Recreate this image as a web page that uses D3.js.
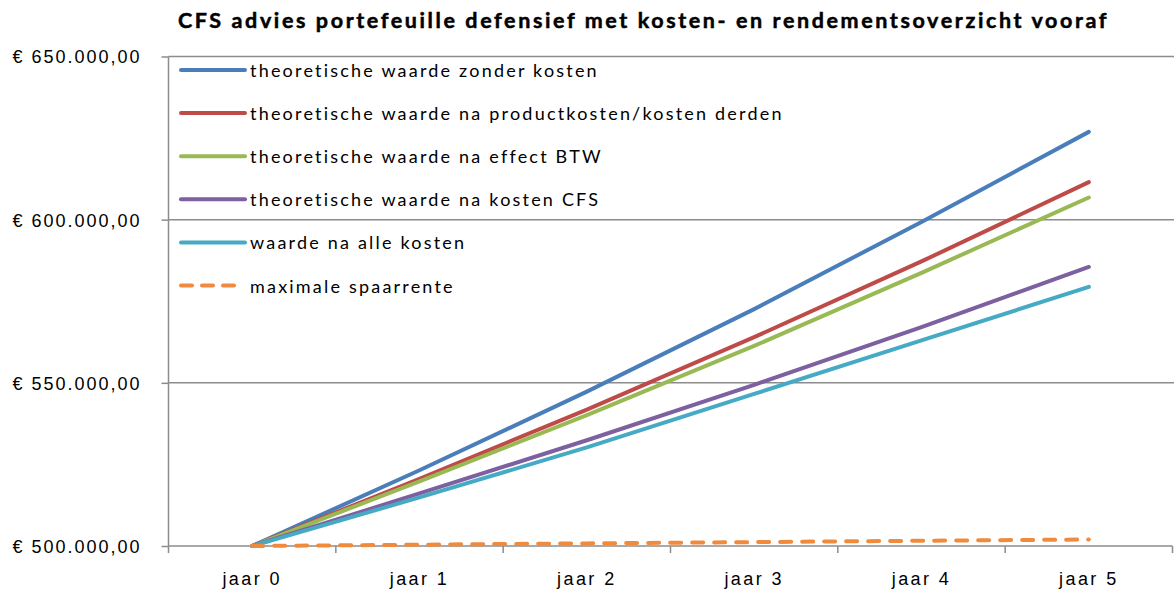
<!DOCTYPE html>
<html>
<head>
<meta charset="utf-8">
<script src="https://cdn.jsdelivr.net/npm/d3@7"></script>
<style>
  body { margin: 0; background: #fff; }
  svg { display: block; font-family: Lato, "Open Sans", sans-serif; }
</style>
</head>
<body>
<div id="vis"></div>
<script>
// chart data
var categories = ['jaar 0', 'jaar 1', 'jaar 2', 'jaar 3', 'jaar 4', 'jaar 5'];
var seriesNames = [
  'theoretische waarde zonder kosten',
  'theoretische waarde na productkosten/kosten derden',
  'theoretische waarde na effect BTW',
  'theoretische waarde na kosten CFS',
  'waarde na alle kosten',
  'maximale spaarrente'
];
var zonderKosten   = [500000, 523200, 547300, 572600, 599300, 626900];
var naProductKost  = [500000, 520600, 541800, 564000, 587200, 611500];
var naEffectBtw    = [500000, 519800, 540100, 561300, 583700, 606800];
var naKostenCfs    = [500000, 516100, 532400, 549400, 567100, 585500];
var naAlleKosten   = [500000, 514900, 530200, 546600, 563000, 579400];
var spaarrente     = [500000, 500400, 500800, 501200, 501600, 502000];
var yTicks = [500000, 550000, 600000, 650000];

var colors = ['#4a7ebb', '#be4b48', '#98b954', '#7d60a0', '#46aac5', '#f08a3c'];

var width = 1174;
var height = 592;
var margin = { top: 56.5, left: 168.5, right: 1.5, bottom: 46 };

var svg = d3.select('#vis').append('svg')
  .attr('width', width)
  .attr('height', height);

// title
svg.append('text')
  .attr('x', 643.5)
  .attr('y', 27.5)
  .attr('text-anchor', 'middle')
  .style('font-weight', 'bold')
  .style('font-size', '21.5px')
  .style('letter-spacing', '2.6px')
  .attr('stroke', '#000')
  .attr('stroke-width', 0.5)
  .text('CFS advies portefeuille defensief met kosten- en rendementsoverzicht vooraf');

var x = d3.scaleBand()
  .domain(categories)
  .range([margin.left, width - margin.right]);

var y = d3.scaleLinear()
  .domain([500000, 650000])
  .range([height - margin.bottom, margin.top]);

// dutch euro format: € 650.000,00
var nl = d3.formatLocale({ decimal: ',', thousands: '.', grouping: [3], currency: ['€ ', ''] });
var euro = nl.format('$,.2f');

// gridlines
svg.append('g')
  .selectAll('line')
  .data(yTicks.slice(1))
  .enter().append('line')
  .attr('x1', margin.left)
  .attr('x2', width)
  .attr('y1', function (d) { return y(d); })
  .attr('y2', function (d) { return y(d); })
  .attr('stroke', '#8c8c8c')
  .attr('stroke-width', 1.5);

// y axis
var yAxis = d3.axisLeft(y)
  .tickValues(yTicks)
  .tickSize(7)
  .tickPadding(20)
  .tickFormat(euro);

var yAxisG = svg.append('g')
  .attr('class', 'y axis')
  .attr('transform', 'translate(' + margin.left + ',0)')
  .call(yAxis);
yAxisG.select('.domain').remove();
yAxisG.selectAll('line').attr('stroke', '#8c8c8c').attr('stroke-width', 1.5);
yAxisG.append('line')
  .attr('x1', 0).attr('x2', 0)
  .attr('y1', y(650000)).attr('y2', y(500000) + 7)
  .attr('stroke', '#8c8c8c').attr('stroke-width', 1.5);
yAxisG.selectAll('text')
  .attr('fill', '#000')
  .style('font-size', '18px')
  .style('letter-spacing', '2px')
  .attr('dy', '0.36em');

// x axis: labels at band centres, ticks at band edges
var xAxis = d3.axisBottom(x)
  .tickSize(0)
  .tickPadding(26);

var xAxisG = svg.append('g')
  .attr('class', 'x axis')
  .attr('transform', 'translate(0,' + y(500000) + ')')
  .call(xAxis);
xAxisG.select('.domain').remove();
xAxisG.selectAll('text')
  .attr('fill', '#000')
  .style('font-size', '18px')
  .style('letter-spacing', '2.4px');
xAxisG.append('line')
  .attr('x1', margin.left).attr('x2', width - margin.right)
  .attr('stroke', '#8c8c8c').attr('stroke-width', 1.5);
var edges = categories.map(function (c) { return x(c); }).concat([x.range()[1]]);
xAxisG.selectAll('.edge')
  .data(edges.slice(1))
  .enter().append('line')
  .attr('class', 'edge')
  .attr('x1', function (d) { return d; })
  .attr('x2', function (d) { return d; })
  .attr('y1', 0).attr('y2', 7)
  .attr('stroke', '#8c8c8c').attr('stroke-width', 1.5);

// series lines
var allSeries = [zonderKosten, naProductKost, naEffectBtw, naKostenCfs, naAlleKosten, spaarrente];
var line = d3.line()
  .x(function (d, i) { return x(categories[i]) + x.bandwidth() / 2; })
  .y(function (d) { return y(d); });

svg.append('g')
  .selectAll('path')
  .data(allSeries)
  .enter().append('path')
  .attr('d', line)
  .attr('fill', 'none')
  .attr('stroke', function (d, i) { return colors[i]; })
  .attr('stroke-width', 4)
  .attr('stroke-linecap', 'round')
  .attr('stroke-linejoin', 'round')
  .attr('stroke-dasharray', function (d, i) { return i === 5 ? '11,11' : null; });

// legend
var legend = svg.append('g')
  .selectAll('g')
  .data(seriesNames)
  .enter().append('g')
  .attr('transform', function (d, i) { return 'translate(181,' + (70 + i * 43.1) + ')'; });

legend.append('line')
  .attr('x1', 0)
  .attr('x2', function (d, i) { return i === 5 ? 57 : 64; })
  .attr('stroke', function (d, i) { return colors[i]; })
  .attr('stroke-width', 4)
  .attr('stroke-linecap', 'round')
  .attr('stroke-dasharray', function (d, i) { return i === 5 ? '11,10' : null; });

legend.append('text')
  .attr('x', 69)
  .attr('y', 7)
  .style('font-size', '18px')
  .style('letter-spacing', '2.2px')
  .text(function (d) { return d; });
</script>
</body>
</html>
